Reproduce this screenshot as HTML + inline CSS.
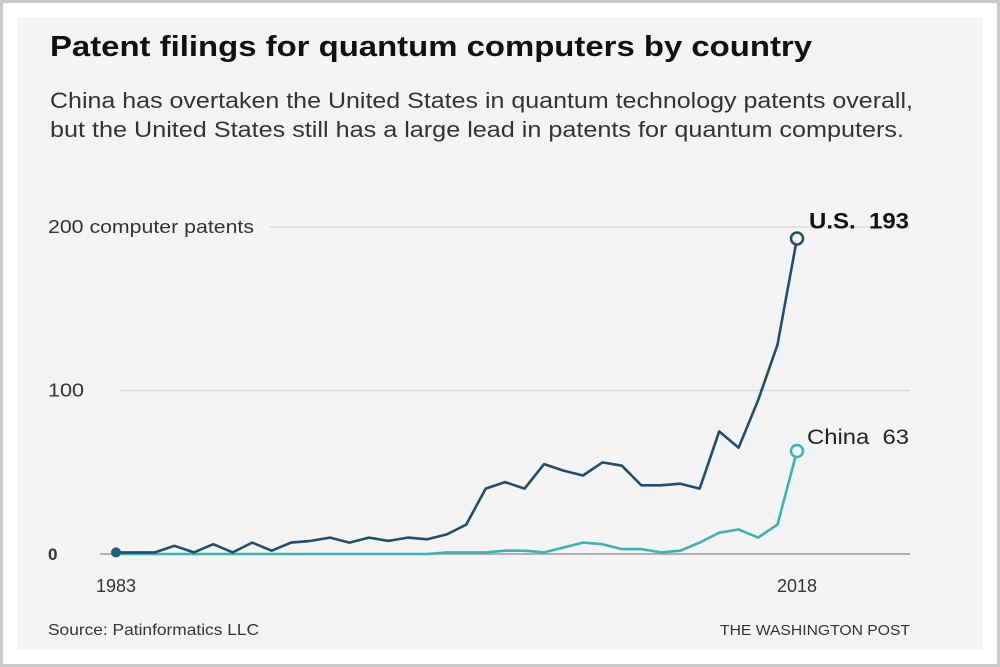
<!DOCTYPE html>
<html><head><meta charset="utf-8"><style>
html,body{margin:0;padding:0;background:#fff}
#frame{position:absolute;left:0;top:0;width:994px;height:661px;border:3px solid #c8c8c8;background:#fff}
#panel{position:absolute;left:17px;top:17px;width:966px;height:632px;background:#f4f4f4}
svg{position:absolute;left:0;top:0}
text{font-family:"Liberation Sans",Arial,sans-serif}
</style></head><body>
<div id="frame"></div>
<div id="panel"></div>
<svg width="1000" height="667" id="chart">
<text x="50" y="56" font-size="29" font-weight="bold" fill="#111" textLength="762" lengthAdjust="spacingAndGlyphs">Patent filings for quantum computers by country</text>
<text x="50" y="108" font-size="22" fill="#333" textLength="863" lengthAdjust="spacingAndGlyphs">China has overtaken the United States in quantum technology patents overall,</text>
<text x="50" y="137" font-size="22" fill="#333" textLength="854" lengthAdjust="spacingAndGlyphs">but the United States still has a large lead in patents for quantum computers.</text>
<g id="grid"></g>
<g id="lines"></g>
<text x="48" y="635" font-size="16" fill="#333" textLength="211" lengthAdjust="spacingAndGlyphs">Source: Patinformatics LLC</text>
<text x="720" y="635" font-size="15" fill="#333" textLength="190" lengthAdjust="spacingAndGlyphs">THE WASHINGTON POST</text>
</svg>
<script>
const years=[1983,1984,1985,1986,1987,1988,1989,1990,1991,1992,1993,1994,1995,1996,1997,1998,1999,2000,2001,2002,2003,2004,2005,2006,2007,2008,2009,2010,2011,2012,2013,2014,2015,2016,2017,2018];
const usValues=[1,1,1,5,1,6,1,7,2,7,8,10,7,10,8,10,9,12,18,40,44,40,55,51,48,56,54,42,42,43,40,75,65,94,128,193];
const chinaValues=[0,0,0,0,0,0,0,0,0,0,0,0,0,0,0,0,0,1,1,1,2,2,1,4,7,6,3,3,1,2,7,13,15,10,18,63];
const yTicks=[0,100,200];
const yTickLabels=["0","100","200 computer patents"];
const xTicks=[1983,2018];
const NS="http://www.w3.org/2000/svg";
const x=y=>116+(y-1983)*(797-116)/(2018-1983);
const yS=v=>554-v*(554-227)/200;
function mk(tag,attrs,parent){const e=document.createElementNS(NS,tag);for(const k in attrs)e.setAttribute(k,attrs[k]);parent.appendChild(e);return e;}
const grid=document.getElementById('grid'),lines=document.getElementById('lines');
yTicks.forEach((t,i)=>{
  const lx=i===0?100:(i===2?270:120);
  const l=mk('line',{x1:lx,x2:910,y1:yS(t),y2:yS(t),stroke:i===0?'#999':'#ddd','stroke-width':1.5},grid);
  
  
  const attrs={x:48,y:yS(t)+6,'font-size':i===0?17:18,fill:'#333','font-weight':i===0?'bold':'normal'};
  if(i===2){attrs.textLength=206;attrs.lengthAdjust='spacingAndGlyphs';}
  if(i===1){attrs.textLength=36;attrs.lengthAdjust='spacingAndGlyphs';}
  const tx=mk('text',attrs,grid);
  tx.textContent=yTickLabels[i];
  
  
});
xTicks.forEach(t=>{
  const tx=mk('text',{x:x(t),y:592,'font-size':18,fill:'#333','text-anchor':'middle'},grid);
  tx.textContent=t;
  
  
});
function series(vals,color,name){
  const d=vals.map((v,i)=>(i?'L':'M')+x(years[i]).toFixed(1)+','+yS(v).toFixed(1)).join(' ');
  const p=mk('path',{d:d,fill:'none',stroke:color,'stroke-width':2.6,'stroke-linejoin':'round'},lines);
  
  
  const n=vals.length-1;
  const c=mk('circle',{cx:x(years[n]),cy:yS(vals[n]),r:6,fill:'#f4f4f4',stroke:color,'stroke-width':2.5},lines);
  
  
  return n;
}
series(chinaValues,'#3bb3b3','china');
const n=series(usValues,'#1f4e6e','us');
const sd=mk('circle',{cx:x(years[0]),cy:yS(usValues[0]),r:5,fill:'#1f5f7a'},lines);


const ul=mk('text',{x:x(years[n])+12,y:yS(usValues[n])-10,'font-size':22,'font-weight':'bold',fill:'#111',textLength:100,lengthAdjust:'spacingAndGlyphs'},lines);
ul.textContent='U.S.\u00a0\u00a0'+usValues[n];


const cl=mk('text',{x:x(years[n])+10,y:yS(chinaValues[n])-7,'font-size':21,fill:'#222',textLength:102,lengthAdjust:'spacingAndGlyphs'},lines);
cl.textContent='China\u00a0\u00a0'+chinaValues[n];


</script>
</body></html>
